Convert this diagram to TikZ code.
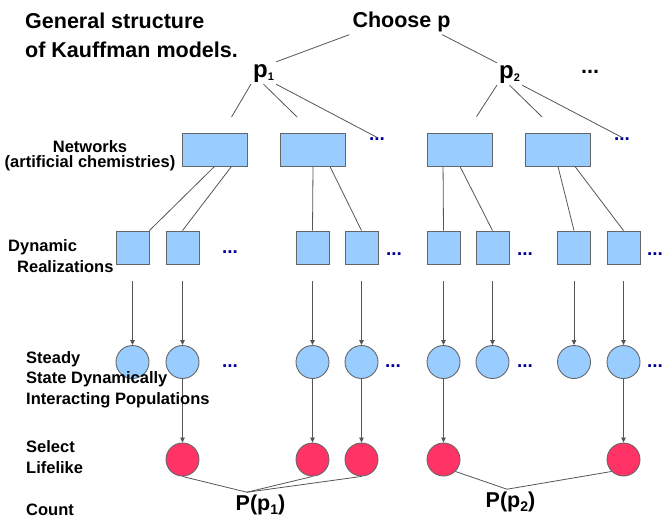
\documentclass[tikz,border=0pt]{standalone}
\usepackage{fontspec}
\setmainfont{Liberation Sans}
\usetikzlibrary{arrows.meta}
\definecolor{netblue}{HTML}{99CCFF}
\definecolor{lifered}{HTML}{FF3366}
\definecolor{edgegray}{HTML}{666666}
\definecolor{linkgray}{HTML}{555555}
\definecolor{dotblue}{HTML}{000099}
\newcommand{\lowsub}[3]{\raisebox{-#1}{\fontsize{#2}{#2}\selectfont #3}}

\begin{document}
\begin{tikzpicture}[
  x=1pt, y=-1pt,
  >={Triangle[length=5pt,width=4.5pt]},
  label/.style={font=\fontsize{16.5}{20.5}\selectfont\bfseries, inner sep=0pt, align=left, anchor=base west},
  head/.style={font=\fontsize{21.5}{29}\selectfont\bfseries, inner sep=0pt},
  pnode/.style={font=\fontsize{24}{24}\selectfont\bfseries, inner sep=2pt, anchor=base},
  countnode/.style={font=\fontsize{21.5}{22}\selectfont\bfseries, inner sep=2pt, anchor=base},
  netbox/.style={draw=edgegray, fill=netblue, line width=0.9pt, minimum width=65pt, minimum height=33pt, inner sep=0pt},
  realbox/.style={netbox, minimum width=33pt},
  popdot/.style={circle, draw=edgegray, fill=netblue, line width=0.9pt, minimum size=33pt, inner sep=0pt},
  lifedot/.style={popdot, fill=lifered},
  more/.style={font=\fontsize{19}{19}\selectfont\bfseries, text=dotblue, inner sep=0pt},
  link/.style={draw=linkgray, line width=0.8pt},
  flow/.style={->, draw=linkgray, line width=0.8pt}
]
  \useasboundingbox (0,0) rectangle (663,517);

  % choice of p
  \node[head, anchor=base, inner sep=3pt] (choose) at (401.5,27) {Choose p};
  \node[pnode] (p1) at (263.5,77) {p\lowsub{3.5pt}{11}{1}};
  \node[pnode] (p2) at (509.5,78) {p\lowsub{3.5pt}{11}{2}};
  \node[head, anchor=center] (pmore) at (590,72) {...};

  % networks
  \node[netbox] (net1) at (214.5,149.5) {};
  \node[netbox] (net2) at (313,149.5) {};
  \node[netbox] (net3) at (460,149.5) {};
  \node[netbox] (net4) at (558,149.5) {};
  \node[more] (ndots1) at (377,139) {...};
  \node[more] (ndots2) at (622,139) {...};

  % dynamic realizations
  \node[realbox] (sq1) at (132.5,247.5) {};
  \node[realbox] (sq2) at (182.5,247.5) {};
  \node[realbox] (sq3) at (312.5,247.5) {};
  \node[realbox] (sq4) at (361.5,247.5) {};
  \node[realbox] (sq5) at (443.5,247.5) {};
  \node[realbox] (sq6) at (492.5,247.5) {};
  \node[realbox] (sq7) at (574,247.5) {};
  \node[realbox] (sq8) at (623.5,247.5) {};
  \node[more] (sdots1) at (230,252) {...};
  \node[more] (sdots2) at (394,254) {...};
  \node[more] (sdots3) at (525,254) {...};
  \node[more] (sdots4) at (655,254) {...};

  % steady states
  \node[popdot] (st1) at (132.5,362) {};
  \node[popdot] (st2) at (182.5,362) {};
  \node[popdot] (st3) at (312.5,362) {};
  \node[popdot] (st4) at (361.5,362) {};
  \node[popdot] (st5) at (443.5,362) {};
  \node[popdot] (st6) at (492.5,362) {};
  \node[popdot] (st7) at (574,362) {};
  \node[popdot] (st8) at (623.5,362) {};
  \node[more] (cdots1) at (230,366) {...};
  \node[more] (cdots2) at (393,366) {...};
  \node[more] (cdots3) at (525,366) {...};
  \node[more] (cdots4) at (655,366) {...};

  % lifelike ones
  \node[lifedot] (lf2) at (182.5,459.5) {};
  \node[lifedot] (lf3) at (312.5,459.5) {};
  \node[lifedot] (lf4) at (361.5,459.5) {};
  \node[lifedot] (lf5) at (443.5,459.5) {};
  \node[lifedot] (lf8) at (623.5,459.5) {};

  \node[countnode] (pp1) at (260.5,510) {P(p\lowsub{4.5pt}{14}{1})};
  \node[countnode] (pp2) at (510.5,507) {P(p\lowsub{4.5pt}{14}{2})};

  % tree lines
  \draw[link] (choose.south west) -- (p1.north east);
  \draw[link] (choose.-18) -- (p2.north west);
  \draw[link, shorten >=18pt] (p1.south west) -- (net1.65);
  \draw[link, shorten >=22pt] (p1.south) -- (net2.north);
  \draw[link] (p1.south east) -- (ndots1.north);
  \draw[link, shorten >=19pt] (p2.south west) -- (net3.70);
  \draw[link, shorten >=22pt] (p2.south) -- (net4.north);
  \draw[link] (p2.south east) -- (ndots2.north);

  \draw[link] (net1.south) -- (sq1.north east);
  \draw[link] (net1.-45) -- (sq2.north);
  \draw[link] (net2.south) -- (sq3.north);
  \draw[link] (net2.-45) -- (sq4.north);
  \draw[link] (net3.-135) -- (sq5.north);
  \draw[link] (net3.south) -- (sq6.north);
  \draw[link] (net4.south) -- (sq7.north);
  \draw[link] (net4.-45) -- (sq8.north);

  \draw[flow, shorten <=17pt] (sq1.south) -- (st1.north);
  \draw[flow, shorten <=17pt] (sq2.south) -- (st2.north);
  \draw[flow, shorten <=17pt] (sq3.south) -- (st3.north);
  \draw[flow, shorten <=17pt] (sq4.south) -- (st4.north);
  \draw[flow, shorten <=17pt] (sq5.south) -- (st5.north);
  \draw[flow, shorten <=17pt] (sq6.south) -- (st6.north);
  \draw[flow, shorten <=17pt] (sq7.south) -- (st7.north);
  \draw[flow, shorten <=17pt] (sq8.south) -- (st8.north);

  \draw[flow] (st2.south) -- (lf2.north);
  \draw[flow] (st3.south) -- (lf3.north);
  \draw[flow] (st4.south) -- (lf4.north);
  \draw[flow] (st5.south) -- (lf5.north);
  \draw[flow] (st8.south) -- (lf8.north);

  \draw[link] (lf2.south) -- (pp1.138);
  \draw[link] (lf3.south) -- (pp1.138);
  \draw[link] (lf4.south) -- (pp1.138);
  \draw[link] (lf5.south east) -- (pp2.106);
  \draw[link] (lf8.south west) -- (pp2.106);

  % row labels
  \node[head, anchor=base west, align=left] (title) at (25,57) {General structure\\of Kauffman models.};
  \node[label, anchor=base, align=center, font=\fontsize{16.5}{15}\selectfont\bfseries] (netlbl) at (90,167) {Networks\\(artificial chemistries)};
  \node[label, font=\fontsize{16.5}{21}\selectfont\bfseries] (reallbl) at (8,272) {Dynamic\\\hspace*{9pt}Realizations};
  \node[label] (steadylbl) at (26,404) {Steady\\State Dynamically\\Interacting Populations};
  \node[label, font=\fontsize{16.5}{21}\selectfont\bfseries] (selectlbl) at (26,473) {Select\\Lifelike};
  \node[label] (countlbl) at (26,515) {Count};
\end{tikzpicture}
\end{document}
